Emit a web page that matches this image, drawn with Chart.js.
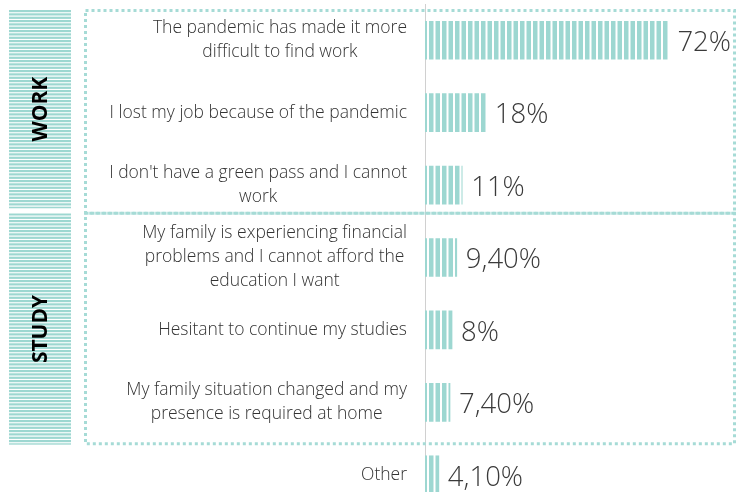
<!DOCTYPE html>
<html>
<head>
<meta charset="utf-8">
<script src="https://cdn.jsdelivr.net/npm/chart.js@4.4.1/dist/chart.umd.min.js"></script>
<style>
    html, body { margin: 0; padding: 0; background: #fff; overflow: hidden; }
    #wrap { position: relative; width: 739px; height: 515px; }
</style>
</head>
<body>
<div id="wrap"><canvas id="chart"></canvas></div>
<script>
// categories (one entry per row, lines as shown)
const categories = [
    ['The pandemic has made it more', 'difficult to find work'],
    ['I lost my job because of the pandemic'],
    ['I don\'t have a green pass and I cannot', 'work'],
    ['My family is experiencing financial', 'problems and I cannot afford the', 'education I want'],
    ['Hesitant to continue my studies'],
    ['My family situation changed and my', 'presence is required at home'],
    ['Other']
];
const shares = [72, 18, 11, 9.4, 8, 7.4, 4.1];

// groups: name, first row, last row
const groupNames = ['WORK', 'STUDY'];
const groupFirst = [0, 3];
const groupLast = [2, 5];

const teal = '#9dd7d1';
const dotTeal = '#a6dbd6';
const textColor = '#333333';
const font = "'Open Sans', 'Noto Sans', sans-serif";

function vStripes() {
    const c = document.createElement('canvas');
    c.width = 13; c.height = 4;
    const g = c.getContext('2d');
    g.fillStyle = '#ffffff';
    g.fillRect(0, 0, 13, 4);
    g.fillStyle = teal;
    g.fillRect(0, 0, 4.5, 4);
    g.fillRect(6.5, 0, 4.5, 4);
    return c;
}

function hStripes() {
    const c = document.createElement('canvas');
    c.width = 4; c.height = 10;
    const g = c.getContext('2d');
    g.fillStyle = '#ffffff';
    g.fillRect(0, 0, 4, 10);
    g.fillStyle = teal;
    g.fillRect(0, 0, 4, 2.2);
    g.fillRect(0, 3.3, 4, 2.2);
    g.fillRect(0, 6.7, 4, 2.2);
    return c;
}

function fmt(v) {
    return (v % 1 ? v.toFixed(2).replace('.', ',') : String(v)) + '%';
}

const ctx = document.getElementById('chart').getContext('2d');
const barPattern = ctx.createPattern(vStripes(), 'repeat');
const bandPattern = ctx.createPattern(hStripes(), 'repeat');

const groupPlugin = {
    id: 'groups',
    beforeDatasetsDraw(chart) {
        const c = chart.ctx;
        const y = chart.scales.y;
        const step = y.getPixelForValue(1) - y.getPixelForValue(0);
        const tops = [y.getPixelForValue(groupFirst[0]) - 0.41 * step, y.getPixelForValue(groupLast[0]) + 0.39 * step];
        const bottoms = [tops[1], y.getPixelForValue(groupLast[1]) + 0.57 * step];
        const left = 85.5, right = 734.5;

        c.save();
        groupNames.forEach((name, i) => {
            // striped side band
            const bTop = i === 0 ? tops[i] - 0.5 : tops[i];
            const bBot = i === 0 ? bottoms[i] - 5 : bottoms[i] + 1;
            c.fillStyle = bandPattern;
            c.fillRect(9, bTop, 62, bBot - bTop);

            c.save();
            c.translate(41, (bTop + bBot) / 2);
            c.rotate(-Math.PI / 2);
            c.fillStyle = '#000';
            c.font = 'bold 21px ' + font;
            c.textAlign = 'center';
            c.textBaseline = 'middle';
            c.fillText(name, 0, 0);
            c.restore();

            // dotted box
            c.strokeStyle = dotTeal;
            c.lineWidth = 3;
            c.setLineDash([3, 3]);
            c.strokeRect(left, tops[i], right - left, bottoms[i] - tops[i]);
        });
        c.restore();

        // category labels: block right aligned, lines centred
        c.save();
        c.font = '300 17.5px ' + font;
        c.fillStyle = textColor;
        c.textAlign = 'center';
        c.textBaseline = 'middle';
        const lineH = 24;
        categories.forEach((lines, i) => {
            const w = Math.max(...lines.map(l => c.measureText(l).width));
            const cx = 407 - w / 2;
            const cy = y.getPixelForValue(i);
            lines.forEach((l, k) => {
                c.fillText(l, cx, cy + (k - (lines.length - 1) / 2) * lineH);
            });
        });
        c.restore();
    },
    afterDatasetsDraw(chart) {
        const c = chart.ctx;
        const meta = chart.getDatasetMeta(0);
        c.save();
        c.font = '300 27.5px ' + font;
        c.fillStyle = '#3a3a3a';
        c.textAlign = 'left';
        c.textBaseline = 'middle';
        meta.data.forEach((bar, i) => {
            c.fillText(fmt(shares[i]), bar.x + 9, bar.y + 3);
        });
        c.restore();
    }
};

new Chart(ctx, {
    type: 'bar',
    data: {
        labels: categories,
        datasets: [{
            data: shares,
            backgroundColor: barPattern,
            borderWidth: 0,
            barThickness: 38
        }]
    },
    options: {
        indexAxis: 'y',
        responsive: true,
        maintainAspectRatio: false,
        animation: false,
        layout: { padding: { top: 4, bottom: 4, right: 3, left: 0 } },
        plugins: {
            legend: { display: false },
            tooltip: { enabled: false }
        },
        scales: {
            x: {
                display: false,
                min: 0,
                max: 92
            },
            y: {
                grid: { display: false },
                border: { display: true, color: '#d0d0d0', width: 1 },
                ticks: { display: false },
                afterFit: (scale) => { scale.width = 425; }
            }
        }
    },
    plugins: [groupPlugin]
});
</script>
</body>
</html>
